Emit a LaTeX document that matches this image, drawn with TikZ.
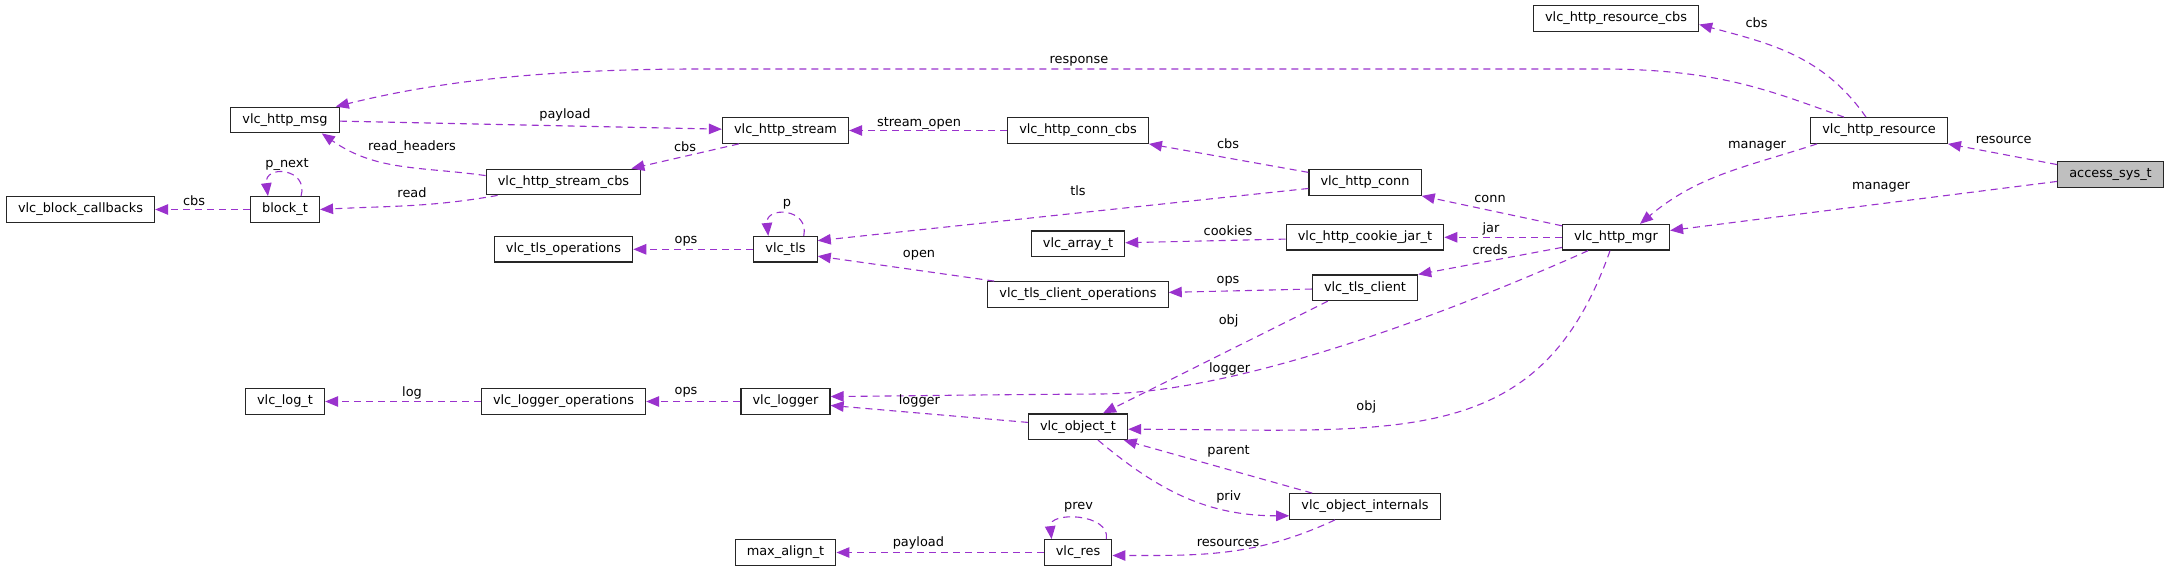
\documentclass[tikz,border=0pt]{standalone}
\usepackage{fontspec}
\setmainfont{DejaVu Sans}
\usepackage{xcolor}
\usetikzlibrary{arrows.meta}
\definecolor{orchid}{HTML}{9A32CD}
\tikzset{
    >={Triangle[length=13pt,width=10.5pt]}, % filled heads like graphviz
    cls/.style={draw=black!85, line width=1.2pt, fill=white, rectangle,
        minimum height=25.6pt, inner ysep=0pt, inner xsep=11.6pt,
        font=\fontsize{12.9}{15}\selectfont},
    cur/.style={cls, fill=black!25}, % the struct the graph is about
    link/.style={->, draw=orchid, line width=1.1pt, dash pattern=on 7pt off 5pt},
    lbl/.style={inner sep=0pt, font=\fontsize{12.9}{15}\selectfont},
}

\begin{document}
\begin{tikzpicture}[x=1pt,y=1pt]
        \useasboundingbox (0,0) rectangle (2169,571);

        \node[cls] (rescbs) at (1616,552.5) {vlc\_http\_resource\_cbs};
        \node[cls] (msg) at (285,451) {vlc\_http\_msg};
        \node[cls] (stream) at (785.5,440.5) {vlc\_http\_stream};
        \node[cls] (conncbs) at (1078,440.5) {vlc\_http\_conn\_cbs};
        \node[cls] (resource) at (1879,440.5) {vlc\_http\_resource};
        \node[cur] (access) at (2110.5,396.3) {access\_sys\_t};
        \node[cls] (streamcbs) at (563.5,389) {vlc\_http\_stream\_cbs};
        \node[cls] (conn) at (1365,388.5) {vlc\_http\_conn};
        \node[cls] (blockcb) at (80.5,361.5) {vlc\_block\_callbacks};
        \node[cls] (block) at (285,361.5) {block\_t};
        \node[cls] (mgr) at (1616,333.7) {vlc\_http\_mgr};
        \node[cls] (jar) at (1365,333.7) {vlc\_http\_cookie\_jar\_t};
        \node[cls] (array) at (1078,327.2) {vlc\_array\_t};
        \node[cls] (tlsops) at (563.5,321.7) {vlc\_tls\_operations};
        \node[cls] (tls) at (785.5,321.7) {vlc\_tls};
        \node[cls] (tlsclient) at (1365,283.2) {vlc\_tls\_client};
        \node[cls] (tlsclientops) at (1078,276.5) {vlc\_tls\_client\_operations};
        \node[cls] (logt) at (285,169.5) {vlc\_log\_t};
        \node[cls] (loggerops) at (563.5,169.5) {vlc\_logger\_operations};
        \node[cls] (logger) at (785.5,169.5) {vlc\_logger};
        \node[cls] (object) at (1078,144.3) {vlc\_object\_t};
        \node[cls] (internals) at (1365,64.5) {vlc\_object\_internals};
        \node[cls] (maxalign) at (785.5,18.5) {max\_align\_t};
        \node[cls] (res) at (1078,18.5) {vlc\_res};

        % access_sys_t
        \draw[link] (access) -- (resource.south east) node[lbl, at={(2003.7,431)}] {resource};
        \draw[link] (access) -- (mgr) node[lbl, at={(1881,384)}] {manager};

        % vlc_http_resource
        \draw[link] ([xshift=7]resource.south west) to[out=198,in=40] ([xshift=24]mgr.north)
            node[lbl, at={(1757,424.3)}] {manager};
        \draw[link] ([xshift=-13]resource.north) to[out=125,in=-15] ([yshift=-6]rescbs.east)
            node[lbl, at={(1756.5,548.3)}] {cbs};
        \draw[link] ([xshift=-35]resource.north) .. controls (1770,480) and (1720,502) .. (1600,502)
            -- (700,502) .. controls (520,502) and (420,485) .. ([xshift=-4]msg.north east)
            node[lbl, at={(1079,510)}] {response};

        % vlc_http_msg / vlc_http_stream
        \draw[link] (msg) -- (stream) node[lbl, at={(565,456)}] {payload};
        \draw[link] ([xshift=17]stream.south west) -- ([xshift=-10]streamcbs.north east)
            node[lbl, at={(685,424)}] {cbs};
        \draw[link] ([yshift=-7]streamcbs.north west) to[out=172,in=-35] ([xshift=-18]msg.south east)
            node[lbl, at={(412,424)}] {read\_headers};
        \draw[link] ([xshift=12]streamcbs.south west) to[out=190,in=3] (block.east)
            node[lbl, at={(412,378)}] {read};

        % block_t
        \draw[link] (block) -- (blockcb) node[lbl, at={(194,370.3)}] {cbs};
        \draw[link] ([xshift=-19]block.north east) .. controls +(8,28) and +(-4,32) .. ([xshift=18]block.north west)
            node[lbl, at={(287,407)}] {p\_next};

        % vlc_http_conn_cbs / vlc_http_conn
        \draw[link] (conncbs) -- (stream) node[lbl, at={(919,448)}] {stream\_open};
        \draw[link] (conn) -- (conncbs.south east) node[lbl, at={(1228,427.3)}] {cbs};
        \draw[link] (conn) -- (tls.15) node[lbl, at={(1078,380.3)}] {tls};

        % vlc_tls
        \draw[link] ([xshift=-14]tls.north east) .. controls +(6,28) and +(-3,30) .. ([xshift=15]tls.north west)
            node[lbl, at={(787,367)}] {p};
        \draw[link] (tls) -- (tlsops) node[lbl, at={(686,330)}] {ops};
        \draw[link] ([xshift=7]tlsclientops.north west) -- (tls.-12) node[lbl, at={(919,316)}] {open};
        \draw[link] (jar) -- (array) node[lbl, at={(1228,340.3)}] {cookies};

        % vlc_http_mgr
        \draw[link] (mgr) -- (conn.south east) node[lbl, at={(1490,372)}] {conn};
        \draw[link] (mgr) -- (jar) node[lbl, at={(1491,342)}] {jar};
        \draw[link] (mgr) -- (tlsclient.north east) node[lbl, at={(1490,321)}] {creds};
        \draw[link] ([xshift=-28]mgr.south) .. controls (1480,272) and (1250,178) .. (1100,177)
            .. controls (950,176) and (900,175) .. ([yshift=5]logger.east)
            node[lbl, at={(1229.6,202.3)}] {logger};
        \draw[link] ([xshift=-6]mgr.south) .. controls (1540,120) and (1400,141) .. ([yshift=-2.5]object.east)
            node[lbl, at={(1366.3,164.3)}] {obj};

        % vlc_tls_client
        \draw[link] (tlsclient) -- (tlsclientops) node[lbl, at={(1228,290)}] {ops};
        \draw[link] ([xshift=16]tlsclient.south west) -- ([xshift=25]object.north)
            node[lbl, at={(1228.6,250.3)}] {obj};

        % vlc_logger
        \draw[link] (logger) -- (loggerops) node[lbl, at={(686,178.3)}] {ops};
        \draw[link] (loggerops) -- (logt) node[lbl, at={(412,178.3)}] {log};

        % vlc_object_t / vlc_object_internals
        \draw[link] (object) -- (logger.-5) node[lbl, at={(919.4,170.3)}] {logger};
        \draw[link] ([xshift=20]object.south) to[out=-40,in=180] (internals.187)
            node[lbl, at={(1228.6,74)}] {priv};
        \draw[link] ([xshift=23]internals.north west) -- ([xshift=-4.5]object.south east)
            node[lbl, at={(1228.6,119.3)}] {parent};
        \draw[link] ([xshift=-30]internals.south) to[out=205,in=0] (res.-5)
            node[lbl, at={(1228,28.3)}] {resources};

        % vlc_res
        \draw[link] (res) -- (maxalign) node[lbl, at={(918.4,27.7)}] {payload};
        \draw[link] ([xshift=-6]res.north east) .. controls +(4,26) and +(-3,28) .. ([xshift=8]res.north west)
            node[lbl, at={(1078.6,64)}] {prev};
\end{tikzpicture}
\end{document}
